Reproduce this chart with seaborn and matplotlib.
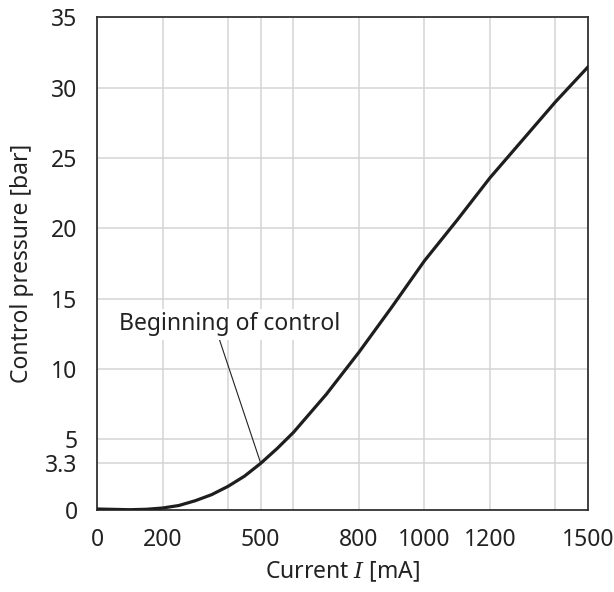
import matplotlib
matplotlib.use("Agg")
import matplotlib.pyplot as plt
import seaborn as sns
import pandas as pd

# values
current_ma = [0, 100, 150, 200, 250, 300, 350, 400, 450, 500, 550, 600, 700, 800, 900, 1000, 1100, 1200, 1300, 1400, 1500]
pressure_bar = [0.05, 0.0, 0.03, 0.12, 0.3, 0.64, 1.07, 1.66, 2.38, 3.3, 4.35, 5.5, 8.2, 11.2, 14.4, 17.7, 20.6, 23.6, 26.3, 29.0, 31.5]

x_ticks = [0, 200, 500, 800, 1000, 1200, 1500]
x_grid_extra = [400, 600, 1400]
y_ticks = [0, 3.3, 5, 10, 15, 20, 25, 30, 35]
y_tick_labels = ["0", "3.3", "5", "10", "15", "20", "25", "30", "35"]

start_point = (500, 3.3)
label_pos = (404, 13.2)

sns.set_theme(style="white")
plt.rcParams["font.family"] = ["Noto Sans", "DejaVu Sans"]
plt.rcParams["mathtext.fontset"] = "dejavuserif"

df = pd.DataFrame({"current": current_ma, "pressure": pressure_bar})

fig = plt.figure(figsize=(6.14, 5.92), dpi=100)
ax = fig.add_axes([0.158, 0.139, 0.800, 0.8315])

sns.lineplot(data=df, x="current", y="pressure", ax=ax, color="#1e1e1e", lw=2.3, zorder=3)

ax.set_xlim(0, 1500)
ax.set_ylim(0, 35)
ax.set_xticks(x_ticks)
ax.set_xticks(x_grid_extra, minor=True)
ax.set_yticks(y_ticks)
ax.set_yticklabels(y_tick_labels)

fs = 16.5
ax.grid(True, which="both", color="#d4d4d4", lw=1.1, zorder=0)
ax.set_axisbelow(True)
ax.tick_params(axis="both", which="both", length=0, labelsize=fs, colors="#222222")
ax.tick_params(axis="x", pad=13)
ax.tick_params(axis="y", pad=14)

for s in ax.spines.values():
    s.set_color("#333333")
    s.set_linewidth(1.3)

ax.set_xlabel(r"Current $I$ [mA]", fontsize=fs, color="#222222", labelpad=6)
ax.set_ylabel("Control pressure [bar]", fontsize=fs, color="#222222", labelpad=8)

ax.annotate("Beginning of control", xy=start_point, xytext=label_pos,
            ha="center", va="center", fontsize=fs, color="#222222",
            bbox=dict(boxstyle="square,pad=0.15", fc="white", ec="none"),
            arrowprops=dict(arrowstyle="-", color="#222222", lw=0.8,
                            relpos=(0.45, 0), shrinkA=0, shrinkB=0),
            zorder=4)

fig.savefig("out.png", dpi=100)
